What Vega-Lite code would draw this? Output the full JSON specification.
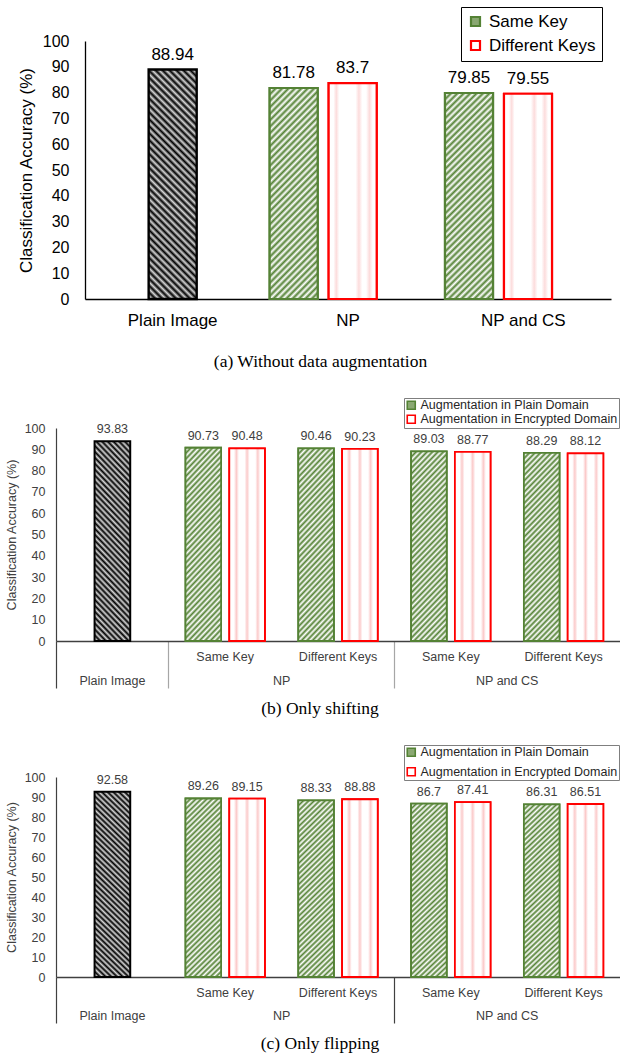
{
  "$schema": "https://vega.github.io/schema/vega-lite/v6.json",
  "background": "white",
  "padding": {"left": 5, "top": 6, "right": 0, "bottom": 0},
  "spacing": 26,
  "resolve": {
    "scale": {"x": "independent", "y": "independent", "xOffset": "independent", "fill": "independent", "stroke": "independent"},
    "axis": {"x": "independent", "y": "independent"},
    "legend": {"fill": "independent", "stroke": "independent"}
  },
  "config": {
    "font": "Liberation Sans",
    "view": {"stroke": null},
    "axis": {"grid": false, "labelFont": "Liberation Sans", "titleFont": "Liberation Sans"},
    "legend": {"labelFont": "Liberation Sans"}
  },
  "vconcat": [
    {
      "width": 555,
      "height": 258,
      "title": {"text": "(a) Without data augmentation", "orient": "bottom", "anchor": "middle", "frame": "group", "dx": -13, "offset": 25, "font": "Liberation Serif", "fontSize": 17.5, "fontWeight": "normal", "color": "#000"},
      "data": {"values": [
        {"cat": "Plain Image", "series": "Plain", "acc": 88.94},
        {"cat": "NP", "series": "Same Key", "acc": 81.78},
        {"cat": "NP", "series": "Different Keys", "acc": 83.7},
        {"cat": "NP and CS", "series": "Same Key", "acc": 79.85},
        {"cat": "NP and CS", "series": "Different Keys", "acc": 79.55}
      ]},
      "resolve": {"axis": {"y": "independent"}},
      "layer": [
        {
          "transform": [{"filter": "datum.series !== 'Plain'"}],
          "mark": {"type": "bar", "strokeWidth": 2.2},
          "encoding": {
            "x": {"field": "cat", "type": "nominal", "sort": null,
              "scale": {"domain": ["Plain Image", "NP", "NP and CS"], "range": [29, 555], "paddingInner": 0, "paddingOuter": 0},
              "axis": {"title": null, "labelAngle": 0, "ticks": false, "domainColor": "#000", "domainWidth": 1.3, "labelFontSize": 17, "labelColor": "#000", "labelPadding": 13}},
            "xOffset": {"field": "series", "type": "nominal",
              "scale": {"domain": ["Same Key", "Different Keys", "none"], "paddingInner": 0.186, "paddingOuter": 0.079, "align": 1}},
            "y": {"field": "acc", "type": "quantitative",
              "scale": {"domain": [0, 100], "nice": false},
              "axis": {"title": "Classification Accuracy (%)", "offset": -29, "values": [0, 10, 20, 30, 40, 50, 60, 70, 80, 90, 100], "labelOverlap": false, "ticks": false, "domainColor": "#000", "domainWidth": 1.3, "labelFontSize": 16, "labelColor": "#000", "labelPadding": 16, "titleFontSize": 17, "titleFontWeight": "normal", "titleColor": "#000", "titlePadding": 7}},
            "fill": {"field": "series", "type": "nominal",
              "scale": {"domain": ["Same Key", "Different Keys"], "range": ["#8aa872", "#ffffff"]},
              "legend": {"orient": "none", "legendX": 405, "legendY": -34, "title": null, "direction": "vertical", "labelFontSize": 17, "labelColor": "#000", "labelLimit": 300, "symbolType": "square", "symbolSize": 81, "symbolStrokeWidth": 2.2, "labelOffset": 5, "rowPadding": 5, "padding": 6, "strokeColor": "#000"}},
            "stroke": {"field": "series", "type": "nominal",
              "scale": {"domain": ["Same Key", "Different Keys"], "range": ["#548235", "#ff0000"]},
              "legend": {"orient": "none", "legendX": 405, "legendY": -34, "title": null, "direction": "vertical", "labelFontSize": 17, "labelColor": "#000", "labelLimit": 300, "symbolType": "square", "symbolSize": 81, "symbolStrokeWidth": 2.2, "labelOffset": 5, "rowPadding": 5, "padding": 6, "strokeColor": "#000"}}
          }
        },
        {
          "transform": [{"filter": "datum.series === 'Same Key'"}],
          "mark": {"type": "bar", "stroke": "#548235", "strokeWidth": 2.2,
            "fill": {"gradient": "linear", "x1": 0, "y1": 0, "x2": 0.27, "y2": 1.17, "stops": [{"offset":0,"color":"#548235"},{"offset":0.0125,"color":"#fff"},{"offset":0.025,"color":"#548235"},{"offset":0.0375,"color":"#fff"},{"offset":0.05,"color":"#548235"},{"offset":0.0625,"color":"#fff"},{"offset":0.075,"color":"#548235"},{"offset":0.0875,"color":"#fff"},{"offset":0.1,"color":"#548235"},{"offset":0.1125,"color":"#fff"},{"offset":0.125,"color":"#548235"},{"offset":0.1375,"color":"#fff"},{"offset":0.15,"color":"#548235"},{"offset":0.1625,"color":"#fff"},{"offset":0.175,"color":"#548235"},{"offset":0.1875,"color":"#fff"},{"offset":0.2,"color":"#548235"},{"offset":0.2125,"color":"#fff"},{"offset":0.225,"color":"#548235"},{"offset":0.2375,"color":"#fff"},{"offset":0.25,"color":"#548235"},{"offset":0.2625,"color":"#fff"},{"offset":0.275,"color":"#548235"},{"offset":0.2875,"color":"#fff"},{"offset":0.3,"color":"#548235"},{"offset":0.3125,"color":"#fff"},{"offset":0.325,"color":"#548235"},{"offset":0.3375,"color":"#fff"},{"offset":0.35,"color":"#548235"},{"offset":0.3625,"color":"#fff"},{"offset":0.375,"color":"#548235"},{"offset":0.3875,"color":"#fff"},{"offset":0.4,"color":"#548235"},{"offset":0.4125,"color":"#fff"},{"offset":0.425,"color":"#548235"},{"offset":0.4375,"color":"#fff"},{"offset":0.45,"color":"#548235"},{"offset":0.4625,"color":"#fff"},{"offset":0.475,"color":"#548235"},{"offset":0.4875,"color":"#fff"},{"offset":0.5,"color":"#548235"},{"offset":0.5125,"color":"#fff"},{"offset":0.525,"color":"#548235"},{"offset":0.5375,"color":"#fff"},{"offset":0.55,"color":"#548235"},{"offset":0.5625,"color":"#fff"},{"offset":0.575,"color":"#548235"},{"offset":0.5875,"color":"#fff"},{"offset":0.6,"color":"#548235"},{"offset":0.6125,"color":"#fff"},{"offset":0.625,"color":"#548235"},{"offset":0.6375,"color":"#fff"},{"offset":0.65,"color":"#548235"},{"offset":0.6625,"color":"#fff"},{"offset":0.675,"color":"#548235"},{"offset":0.6875,"color":"#fff"},{"offset":0.7,"color":"#548235"},{"offset":0.7125,"color":"#fff"},{"offset":0.725,"color":"#548235"},{"offset":0.7375,"color":"#fff"},{"offset":0.75,"color":"#548235"},{"offset":0.7625,"color":"#fff"},{"offset":0.775,"color":"#548235"},{"offset":0.7875,"color":"#fff"},{"offset":0.8,"color":"#548235"},{"offset":0.8125,"color":"#fff"},{"offset":0.825,"color":"#548235"},{"offset":0.8375,"color":"#fff"},{"offset":0.85,"color":"#548235"},{"offset":0.8625,"color":"#fff"},{"offset":0.875,"color":"#548235"},{"offset":0.8875,"color":"#fff"},{"offset":0.9,"color":"#548235"},{"offset":0.9125,"color":"#fff"},{"offset":0.925,"color":"#548235"},{"offset":0.9375,"color":"#fff"},{"offset":0.95,"color":"#548235"},{"offset":0.9625,"color":"#fff"},{"offset":0.975,"color":"#548235"},{"offset":0.9875,"color":"#fff"},{"offset":1,"color":"#548235"}]}},
          "encoding": {
            "x": {"field": "cat", "type": "nominal", "sort": null},
            "xOffset": {"field": "series", "type": "nominal"},
            "y": {"field": "acc", "type": "quantitative", "axis": null}
          }
        },
        {
          "transform": [{"filter": "datum.series === 'Different Keys'"}],
          "mark": {"type": "bar", "stroke": "#ff0000", "strokeWidth": 2.2,
            "fill": {"gradient": "linear", "x1": 0, "y1": 0, "x2": 1, "y2": 0, "stops": [{"offset":0,"color":"#fff"},{"offset":0.1,"color":"#fff"},{"offset":0.16,"color":"#fcdcdc"},{"offset":0.22,"color":"#fff"},{"offset":0.56,"color":"#fff"},{"offset":0.63,"color":"#fcdcdc"},{"offset":0.7,"color":"#fff"},{"offset":0.78,"color":"#fff"},{"offset":0.85,"color":"#fcdcdc"},{"offset":0.92,"color":"#fff"},{"offset":1,"color":"#fff"}]}},
          "encoding": {
            "x": {"field": "cat", "type": "nominal", "sort": null},
            "xOffset": {"field": "series", "type": "nominal"},
            "y": {"field": "acc", "type": "quantitative", "axis": null}
          }
        },
        {
          "transform": [{"filter": "datum.series === 'Plain'"}],
          "mark": {"type": "bar", "stroke": "#000", "strokeWidth": 2.4, "width": {"band": 0.274},
            "fill": {"gradient": "linear", "x1": 0, "y1": 1, "x2": 0.242, "y2": -0.158, "stops": [{"offset":0,"color":"#000"},{"offset":0.0125,"color":"#d4d4d4"},{"offset":0.025,"color":"#000"},{"offset":0.0375,"color":"#d4d4d4"},{"offset":0.05,"color":"#000"},{"offset":0.0625,"color":"#d4d4d4"},{"offset":0.075,"color":"#000"},{"offset":0.0875,"color":"#d4d4d4"},{"offset":0.1,"color":"#000"},{"offset":0.1125,"color":"#d4d4d4"},{"offset":0.125,"color":"#000"},{"offset":0.1375,"color":"#d4d4d4"},{"offset":0.15,"color":"#000"},{"offset":0.1625,"color":"#d4d4d4"},{"offset":0.175,"color":"#000"},{"offset":0.1875,"color":"#d4d4d4"},{"offset":0.2,"color":"#000"},{"offset":0.2125,"color":"#d4d4d4"},{"offset":0.225,"color":"#000"},{"offset":0.2375,"color":"#d4d4d4"},{"offset":0.25,"color":"#000"},{"offset":0.2625,"color":"#d4d4d4"},{"offset":0.275,"color":"#000"},{"offset":0.2875,"color":"#d4d4d4"},{"offset":0.3,"color":"#000"},{"offset":0.3125,"color":"#d4d4d4"},{"offset":0.325,"color":"#000"},{"offset":0.3375,"color":"#d4d4d4"},{"offset":0.35,"color":"#000"},{"offset":0.3625,"color":"#d4d4d4"},{"offset":0.375,"color":"#000"},{"offset":0.3875,"color":"#d4d4d4"},{"offset":0.4,"color":"#000"},{"offset":0.4125,"color":"#d4d4d4"},{"offset":0.425,"color":"#000"},{"offset":0.4375,"color":"#d4d4d4"},{"offset":0.45,"color":"#000"},{"offset":0.4625,"color":"#d4d4d4"},{"offset":0.475,"color":"#000"},{"offset":0.4875,"color":"#d4d4d4"},{"offset":0.5,"color":"#000"},{"offset":0.5125,"color":"#d4d4d4"},{"offset":0.525,"color":"#000"},{"offset":0.5375,"color":"#d4d4d4"},{"offset":0.55,"color":"#000"},{"offset":0.5625,"color":"#d4d4d4"},{"offset":0.575,"color":"#000"},{"offset":0.5875,"color":"#d4d4d4"},{"offset":0.6,"color":"#000"},{"offset":0.6125,"color":"#d4d4d4"},{"offset":0.625,"color":"#000"},{"offset":0.6375,"color":"#d4d4d4"},{"offset":0.65,"color":"#000"},{"offset":0.6625,"color":"#d4d4d4"},{"offset":0.675,"color":"#000"},{"offset":0.6875,"color":"#d4d4d4"},{"offset":0.7,"color":"#000"},{"offset":0.7125,"color":"#d4d4d4"},{"offset":0.725,"color":"#000"},{"offset":0.7375,"color":"#d4d4d4"},{"offset":0.75,"color":"#000"},{"offset":0.7625,"color":"#d4d4d4"},{"offset":0.775,"color":"#000"},{"offset":0.7875,"color":"#d4d4d4"},{"offset":0.8,"color":"#000"},{"offset":0.8125,"color":"#d4d4d4"},{"offset":0.825,"color":"#000"},{"offset":0.8375,"color":"#d4d4d4"},{"offset":0.85,"color":"#000"},{"offset":0.8625,"color":"#d4d4d4"},{"offset":0.875,"color":"#000"},{"offset":0.8875,"color":"#d4d4d4"},{"offset":0.9,"color":"#000"},{"offset":0.9125,"color":"#d4d4d4"},{"offset":0.925,"color":"#000"},{"offset":0.9375,"color":"#d4d4d4"},{"offset":0.95,"color":"#000"},{"offset":0.9625,"color":"#d4d4d4"},{"offset":0.975,"color":"#000"},{"offset":0.9875,"color":"#d4d4d4"},{"offset":1,"color":"#000"}]}},
          "encoding": {
            "x": {"field": "cat", "type": "nominal", "sort": null},
            "y": {"field": "acc", "type": "quantitative", "axis": null}
          }
        },
        {
          "transform": [{"filter": "datum.series !== 'Plain'"}],
          "mark": {"type": "text", "baseline": "bottom", "dy": -6, "fontSize": 17, "color": "#000"},
          "encoding": {
            "x": {"field": "cat", "type": "nominal", "sort": null},
            "xOffset": {"field": "series", "type": "nominal"},
            "y": {"field": "acc", "type": "quantitative", "axis": null},
            "text": {"field": "acc", "type": "nominal"}
          }
        },
        {
          "transform": [{"filter": "datum.series === 'Plain'"}],
          "mark": {"type": "text", "baseline": "bottom", "dy": -6, "fontSize": 17, "color": "#000"},
          "encoding": {
            "x": {"field": "cat", "type": "nominal", "sort": null},
            "y": {"field": "acc", "type": "quantitative", "axis": null},
            "text": {"field": "acc", "type": "nominal"}
          }
        }
      ]
    },
    {
      "width": 564,
      "height": 213,
      "title": {"text": "(b) Only shifting", "orient": "bottom", "anchor": "middle", "frame": "group", "dx": -18, "offset": 11, "font": "Liberation Serif", "fontSize": 17.5, "fontWeight": "normal", "color": "#000"},
      "data": {"values": [
        {"cat": "Plain Image", "series": "Plain", "acc": 93.83},
        {"cat": "NP|Same Key", "series": "Augmentation in Plain Domain", "acc": 90.73},
        {"cat": "NP|Same Key", "series": "Augmentation in Encrypted Domain", "acc": 90.48},
        {"cat": "NP|Different Keys", "series": "Augmentation in Plain Domain", "acc": 90.46},
        {"cat": "NP|Different Keys", "series": "Augmentation in Encrypted Domain", "acc": 90.23},
        {"cat": "NPCS|Same Key", "series": "Augmentation in Plain Domain", "acc": 89.03},
        {"cat": "NPCS|Same Key", "series": "Augmentation in Encrypted Domain", "acc": 88.77},
        {"cat": "NPCS|Different Keys", "series": "Augmentation in Plain Domain", "acc": 88.29},
        {"cat": "NPCS|Different Keys", "series": "Augmentation in Encrypted Domain", "acc": 88.12}
      ]},
      "resolve": {"axis": {"x": "independent", "y": "independent"}},
      "layer": [
        {
          "transform": [{"filter": "datum.series !== 'Plain'"}],
          "mark": {"type": "bar", "strokeWidth": 1.8},
          "encoding": {
            "x": {"field": "cat", "type": "nominal", "sort": null,
              "scale": {"domain": ["Plain Image", "NP|Same Key", "NP|Different Keys", "NPCS|Same Key", "NPCS|Different Keys"], "paddingInner": 0, "paddingOuter": 0},
              "axis": {"title": null, "orient": "bottom", "labelAngle": 0, "domainColor": "#404040", "domainWidth": 1.3,
                "bandPosition": 0, "ticks": true, "tickSize": 47, "tickWidth": 1.2,
                "tickColor": {"condition": {"test": "datum.value === 'Plain Image'", "value": "#404040"}, "value": "#a6a6a6"},
                "tickOpacity": {"condition": {"test": "datum.value === 'Plain Image' || datum.value === 'NP|Same Key' || datum.value === 'NPCS|Same Key'", "value": 1}, "value": 0},
                "labelExpr": "indexof(datum.value, '|') > 0 ? split(datum.value, '|')[1] : ''",
                "labelFontSize": 12.5, "labelColor": "#404040", "labelPadding": -38, "labelOverlap": false, "labelBound": false}},
            "xOffset": {"field": "series", "type": "nominal",
              "scale": {"domain": ["Augmentation in Plain Domain", "Augmentation in Encrypted Domain"], "paddingInner": 0.187, "paddingOuter": 0.381}},
            "y": {"field": "acc", "type": "quantitative",
              "scale": {"domain": [0, 100], "nice": false},
              "axis": {"title": "Classification Accuracy (%)", "values": [0, 10, 20, 30, 40, 50, 60, 70, 80, 90, 100], "labelOverlap": false, "ticks": false, "domainColor": "#404040", "domainWidth": 1.2, "labelFontSize": 12.5, "labelColor": "#404040", "labelPadding": 11, "titleFontSize": 12.5, "titleFontWeight": "normal", "titleColor": "#404040", "titlePadding": 6}},
            "fill": {"field": "series", "type": "nominal",
              "scale": {"domain": ["Augmentation in Plain Domain", "Augmentation in Encrypted Domain"], "range": ["#8aa872", "#ffffff"]},
              "legend": {"orient": "none", "legendX": 348, "legendY": -30, "title": null, "direction": "vertical", "labelFontSize": 12.5, "labelColor": "#262626", "labelLimit": 400, "symbolType": "square", "symbolSize": 64, "symbolStrokeWidth": 1.6, "labelOffset": 3, "rowPadding": -1, "padding": 1, "strokeColor": "#7f7f7f"}},
            "stroke": {"field": "series", "type": "nominal",
              "scale": {"domain": ["Augmentation in Plain Domain", "Augmentation in Encrypted Domain"], "range": ["#548235", "#ff0000"]},
              "legend": {"orient": "none", "legendX": 348, "legendY": -30, "title": null, "direction": "vertical", "labelFontSize": 12.5, "labelColor": "#262626", "labelLimit": 400, "symbolType": "square", "symbolSize": 64, "symbolStrokeWidth": 1.6, "labelOffset": 3, "rowPadding": -1, "padding": 1, "strokeColor": "#7f7f7f"}}
          }
        },
        {
          "transform": [{"filter": "datum.series === 'Augmentation in Plain Domain'"}],
          "mark": {"type": "bar", "stroke": "#548235", "strokeWidth": 1.8,
            "fill": {"gradient": "linear", "x1": 0, "y1": 0, "x2": 0.224, "y2": 1.151, "stops": [{"offset":0,"color":"#548235"},{"offset":0.0125,"color":"#fff"},{"offset":0.025,"color":"#548235"},{"offset":0.0375,"color":"#fff"},{"offset":0.05,"color":"#548235"},{"offset":0.0625,"color":"#fff"},{"offset":0.075,"color":"#548235"},{"offset":0.0875,"color":"#fff"},{"offset":0.1,"color":"#548235"},{"offset":0.1125,"color":"#fff"},{"offset":0.125,"color":"#548235"},{"offset":0.1375,"color":"#fff"},{"offset":0.15,"color":"#548235"},{"offset":0.1625,"color":"#fff"},{"offset":0.175,"color":"#548235"},{"offset":0.1875,"color":"#fff"},{"offset":0.2,"color":"#548235"},{"offset":0.2125,"color":"#fff"},{"offset":0.225,"color":"#548235"},{"offset":0.2375,"color":"#fff"},{"offset":0.25,"color":"#548235"},{"offset":0.2625,"color":"#fff"},{"offset":0.275,"color":"#548235"},{"offset":0.2875,"color":"#fff"},{"offset":0.3,"color":"#548235"},{"offset":0.3125,"color":"#fff"},{"offset":0.325,"color":"#548235"},{"offset":0.3375,"color":"#fff"},{"offset":0.35,"color":"#548235"},{"offset":0.3625,"color":"#fff"},{"offset":0.375,"color":"#548235"},{"offset":0.3875,"color":"#fff"},{"offset":0.4,"color":"#548235"},{"offset":0.4125,"color":"#fff"},{"offset":0.425,"color":"#548235"},{"offset":0.4375,"color":"#fff"},{"offset":0.45,"color":"#548235"},{"offset":0.4625,"color":"#fff"},{"offset":0.475,"color":"#548235"},{"offset":0.4875,"color":"#fff"},{"offset":0.5,"color":"#548235"},{"offset":0.5125,"color":"#fff"},{"offset":0.525,"color":"#548235"},{"offset":0.5375,"color":"#fff"},{"offset":0.55,"color":"#548235"},{"offset":0.5625,"color":"#fff"},{"offset":0.575,"color":"#548235"},{"offset":0.5875,"color":"#fff"},{"offset":0.6,"color":"#548235"},{"offset":0.6125,"color":"#fff"},{"offset":0.625,"color":"#548235"},{"offset":0.6375,"color":"#fff"},{"offset":0.65,"color":"#548235"},{"offset":0.6625,"color":"#fff"},{"offset":0.675,"color":"#548235"},{"offset":0.6875,"color":"#fff"},{"offset":0.7,"color":"#548235"},{"offset":0.7125,"color":"#fff"},{"offset":0.725,"color":"#548235"},{"offset":0.7375,"color":"#fff"},{"offset":0.75,"color":"#548235"},{"offset":0.7625,"color":"#fff"},{"offset":0.775,"color":"#548235"},{"offset":0.7875,"color":"#fff"},{"offset":0.8,"color":"#548235"},{"offset":0.8125,"color":"#fff"},{"offset":0.825,"color":"#548235"},{"offset":0.8375,"color":"#fff"},{"offset":0.85,"color":"#548235"},{"offset":0.8625,"color":"#fff"},{"offset":0.875,"color":"#548235"},{"offset":0.8875,"color":"#fff"},{"offset":0.9,"color":"#548235"},{"offset":0.9125,"color":"#fff"},{"offset":0.925,"color":"#548235"},{"offset":0.9375,"color":"#fff"},{"offset":0.95,"color":"#548235"},{"offset":0.9625,"color":"#fff"},{"offset":0.975,"color":"#548235"},{"offset":0.9875,"color":"#fff"},{"offset":1,"color":"#548235"}]}},
          "encoding": {
            "x": {"field": "cat", "type": "nominal", "sort": null, "axis": null},
            "xOffset": {"field": "series", "type": "nominal"},
            "y": {"field": "acc", "type": "quantitative", "axis": null}
          }
        },
        {
          "transform": [{"filter": "datum.series === 'Augmentation in Encrypted Domain'"}],
          "mark": {"type": "bar", "stroke": "#ff0000", "strokeWidth": 1.8,
            "fill": {"gradient": "linear", "x1": 0, "y1": 0, "x2": 1, "y2": 0, "stops": [{"offset":0,"color":"#fff"},{"offset":0.13,"color":"#fff"},{"offset":0.2,"color":"#fbcaca"},{"offset":0.27,"color":"#fff"},{"offset":0.43,"color":"#fff"},{"offset":0.5,"color":"#fbcaca"},{"offset":0.57,"color":"#fff"},{"offset":0.73,"color":"#fff"},{"offset":0.8,"color":"#fbcaca"},{"offset":0.87,"color":"#fff"},{"offset":1,"color":"#fff"}]}},
          "encoding": {
            "x": {"field": "cat", "type": "nominal", "sort": null, "axis": null},
            "xOffset": {"field": "series", "type": "nominal"},
            "y": {"field": "acc", "type": "quantitative", "axis": null}
          }
        },
        {
          "transform": [{"filter": "datum.series === 'Plain'"}],
          "mark": {"type": "bar", "stroke": "#000", "strokeWidth": 2, "width": {"band": 0.316},
            "fill": {"gradient": "linear", "x1": 0, "y1": 1, "x2": 0.2125, "y2": -0.146, "stops": [{"offset":0,"color":"#000"},{"offset":0.0125,"color":"#d4d4d4"},{"offset":0.025,"color":"#000"},{"offset":0.0375,"color":"#d4d4d4"},{"offset":0.05,"color":"#000"},{"offset":0.0625,"color":"#d4d4d4"},{"offset":0.075,"color":"#000"},{"offset":0.0875,"color":"#d4d4d4"},{"offset":0.1,"color":"#000"},{"offset":0.1125,"color":"#d4d4d4"},{"offset":0.125,"color":"#000"},{"offset":0.1375,"color":"#d4d4d4"},{"offset":0.15,"color":"#000"},{"offset":0.1625,"color":"#d4d4d4"},{"offset":0.175,"color":"#000"},{"offset":0.1875,"color":"#d4d4d4"},{"offset":0.2,"color":"#000"},{"offset":0.2125,"color":"#d4d4d4"},{"offset":0.225,"color":"#000"},{"offset":0.2375,"color":"#d4d4d4"},{"offset":0.25,"color":"#000"},{"offset":0.2625,"color":"#d4d4d4"},{"offset":0.275,"color":"#000"},{"offset":0.2875,"color":"#d4d4d4"},{"offset":0.3,"color":"#000"},{"offset":0.3125,"color":"#d4d4d4"},{"offset":0.325,"color":"#000"},{"offset":0.3375,"color":"#d4d4d4"},{"offset":0.35,"color":"#000"},{"offset":0.3625,"color":"#d4d4d4"},{"offset":0.375,"color":"#000"},{"offset":0.3875,"color":"#d4d4d4"},{"offset":0.4,"color":"#000"},{"offset":0.4125,"color":"#d4d4d4"},{"offset":0.425,"color":"#000"},{"offset":0.4375,"color":"#d4d4d4"},{"offset":0.45,"color":"#000"},{"offset":0.4625,"color":"#d4d4d4"},{"offset":0.475,"color":"#000"},{"offset":0.4875,"color":"#d4d4d4"},{"offset":0.5,"color":"#000"},{"offset":0.5125,"color":"#d4d4d4"},{"offset":0.525,"color":"#000"},{"offset":0.5375,"color":"#d4d4d4"},{"offset":0.55,"color":"#000"},{"offset":0.5625,"color":"#d4d4d4"},{"offset":0.575,"color":"#000"},{"offset":0.5875,"color":"#d4d4d4"},{"offset":0.6,"color":"#000"},{"offset":0.6125,"color":"#d4d4d4"},{"offset":0.625,"color":"#000"},{"offset":0.6375,"color":"#d4d4d4"},{"offset":0.65,"color":"#000"},{"offset":0.6625,"color":"#d4d4d4"},{"offset":0.675,"color":"#000"},{"offset":0.6875,"color":"#d4d4d4"},{"offset":0.7,"color":"#000"},{"offset":0.7125,"color":"#d4d4d4"},{"offset":0.725,"color":"#000"},{"offset":0.7375,"color":"#d4d4d4"},{"offset":0.75,"color":"#000"},{"offset":0.7625,"color":"#d4d4d4"},{"offset":0.775,"color":"#000"},{"offset":0.7875,"color":"#d4d4d4"},{"offset":0.8,"color":"#000"},{"offset":0.8125,"color":"#d4d4d4"},{"offset":0.825,"color":"#000"},{"offset":0.8375,"color":"#d4d4d4"},{"offset":0.85,"color":"#000"},{"offset":0.8625,"color":"#d4d4d4"},{"offset":0.875,"color":"#000"},{"offset":0.8875,"color":"#d4d4d4"},{"offset":0.9,"color":"#000"},{"offset":0.9125,"color":"#d4d4d4"},{"offset":0.925,"color":"#000"},{"offset":0.9375,"color":"#d4d4d4"},{"offset":0.95,"color":"#000"},{"offset":0.9625,"color":"#d4d4d4"},{"offset":0.975,"color":"#000"},{"offset":0.9875,"color":"#d4d4d4"},{"offset":1,"color":"#000"}]}},
          "encoding": {
            "x": {"field": "cat", "type": "nominal", "sort": null, "axis": null},
            "y": {"field": "acc", "type": "quantitative", "axis": null}
          }
        },
        {
          "transform": [{"filter": "datum.series !== 'Plain'"}],
          "mark": {"type": "text", "baseline": "bottom", "dy": -5, "fontSize": 12.5, "color": "#404040"},
          "encoding": {
            "x": {"field": "cat", "type": "nominal", "sort": null,
              "axis": {"title": null, "orient": "bottom", "labelAngle": 0, "domain": false, "ticks": false,
                "labelExpr": "datum.value === 'Plain Image' ? 'Plain Image' : datum.value === 'NP|Different Keys' ? 'NP' : datum.value === 'NPCS|Different Keys' ? 'NP and CS' : ''",
                "labelOffset": {"condition": {"test": "datum.value === 'Plain Image'", "value": 0}, "value": -56.4},
                "labelFontSize": 12.5, "labelColor": "#404040", "labelPadding": 33, "labelOverlap": false, "labelBound": false}},
            "xOffset": {"field": "series", "type": "nominal"},
            "y": {"field": "acc", "type": "quantitative", "axis": null},
            "text": {"field": "acc", "type": "nominal"}
          }
        },
        {
          "transform": [{"filter": "datum.series === 'Plain'"}],
          "mark": {"type": "text", "baseline": "bottom", "dy": -5, "fontSize": 12.5, "color": "#404040"},
          "encoding": {
            "x": {"field": "cat", "type": "nominal", "sort": null, "axis": null},
            "y": {"field": "acc", "type": "quantitative", "axis": null},
            "text": {"field": "acc", "type": "nominal"}
          }
        }
      ]
    },
    {
      "width": 564,
      "height": 200,
      "title": {"text": "(c) Only flipping", "orient": "bottom", "anchor": "middle", "frame": "group", "dx": -18, "offset": 11, "font": "Liberation Serif", "fontSize": 17.5, "fontWeight": "normal", "color": "#000"},
      "data": {"values": [
        {"cat": "Plain Image", "series": "Plain", "acc": 92.58},
        {"cat": "NP|Same Key", "series": "Augmentation in Plain Domain", "acc": 89.26},
        {"cat": "NP|Same Key", "series": "Augmentation in Encrypted Domain", "acc": 89.15},
        {"cat": "NP|Different Keys", "series": "Augmentation in Plain Domain", "acc": 88.33},
        {"cat": "NP|Different Keys", "series": "Augmentation in Encrypted Domain", "acc": 88.88},
        {"cat": "NPCS|Same Key", "series": "Augmentation in Plain Domain", "acc": 86.7},
        {"cat": "NPCS|Same Key", "series": "Augmentation in Encrypted Domain", "acc": 87.41},
        {"cat": "NPCS|Different Keys", "series": "Augmentation in Plain Domain", "acc": 86.31},
        {"cat": "NPCS|Different Keys", "series": "Augmentation in Encrypted Domain", "acc": 86.51}
      ]},
      "resolve": {"axis": {"x": "independent", "y": "independent"}},
      "layer": [
        {
          "transform": [{"filter": "datum.series !== 'Plain'"}],
          "mark": {"type": "bar", "strokeWidth": 1.8},
          "encoding": {
            "x": {"field": "cat", "type": "nominal", "sort": null,
              "scale": {"domain": ["Plain Image", "NP|Same Key", "NP|Different Keys", "NPCS|Same Key", "NPCS|Different Keys"], "paddingInner": 0, "paddingOuter": 0},
              "axis": {"title": null, "orient": "bottom", "labelAngle": 0, "domainColor": "#404040", "domainWidth": 1.3,
                "bandPosition": 0, "ticks": true, "tickSize": 46, "tickWidth": 1.2, "tickColor": "#404040",
                "tickOpacity": {"condition": {"test": "datum.value === 'Plain Image' || datum.value === 'NPCS|Same Key'", "value": 1}, "value": 0},
                "labelExpr": "indexof(datum.value, '|') > 0 ? split(datum.value, '|')[1] : ''",
                "labelFontSize": 12.5, "labelColor": "#404040", "labelPadding": -37, "labelOverlap": false, "labelBound": false}},
            "xOffset": {"field": "series", "type": "nominal",
              "scale": {"domain": ["Augmentation in Plain Domain", "Augmentation in Encrypted Domain"], "paddingInner": 0.187, "paddingOuter": 0.381}},
            "y": {"field": "acc", "type": "quantitative",
              "scale": {"domain": [0, 100], "nice": false},
              "axis": {"title": "Classification Accuracy (%)", "values": [0, 10, 20, 30, 40, 50, 60, 70, 80, 90, 100], "labelOverlap": false, "ticks": false, "domainColor": "#404040", "domainWidth": 1.2, "labelFontSize": 12.5, "labelColor": "#404040", "labelPadding": 11, "titleFontSize": 12.5, "titleFontWeight": "normal", "titleColor": "#404040", "titlePadding": 6}},
            "fill": {"field": "series", "type": "nominal",
              "scale": {"domain": ["Augmentation in Plain Domain", "Augmentation in Encrypted Domain"], "range": ["#8aa872", "#ffffff"]},
              "legend": {"orient": "none", "legendX": 348, "legendY": -32, "title": null, "direction": "vertical", "labelFontSize": 12.5, "labelColor": "#262626", "labelLimit": 400, "symbolType": "square", "symbolSize": 64, "symbolStrokeWidth": 1.6, "labelOffset": 3, "rowPadding": 4.5, "padding": 1, "strokeColor": "#7f7f7f"}},
            "stroke": {"field": "series", "type": "nominal",
              "scale": {"domain": ["Augmentation in Plain Domain", "Augmentation in Encrypted Domain"], "range": ["#548235", "#ff0000"]},
              "legend": {"orient": "none", "legendX": 348, "legendY": -32, "title": null, "direction": "vertical", "labelFontSize": 12.5, "labelColor": "#262626", "labelLimit": 400, "symbolType": "square", "symbolSize": 64, "symbolStrokeWidth": 1.6, "labelOffset": 3, "rowPadding": 4.5, "padding": 1, "strokeColor": "#7f7f7f"}}
          }
        },
        {
          "transform": [{"filter": "datum.series === 'Augmentation in Plain Domain'"}],
          "mark": {"type": "bar", "stroke": "#548235", "strokeWidth": 1.8,
            "fill": {"gradient": "linear", "x1": 0, "y1": 0, "x2": 0.224, "y2": 1.151, "stops": [{"offset":0,"color":"#548235"},{"offset":0.0125,"color":"#fff"},{"offset":0.025,"color":"#548235"},{"offset":0.0375,"color":"#fff"},{"offset":0.05,"color":"#548235"},{"offset":0.0625,"color":"#fff"},{"offset":0.075,"color":"#548235"},{"offset":0.0875,"color":"#fff"},{"offset":0.1,"color":"#548235"},{"offset":0.1125,"color":"#fff"},{"offset":0.125,"color":"#548235"},{"offset":0.1375,"color":"#fff"},{"offset":0.15,"color":"#548235"},{"offset":0.1625,"color":"#fff"},{"offset":0.175,"color":"#548235"},{"offset":0.1875,"color":"#fff"},{"offset":0.2,"color":"#548235"},{"offset":0.2125,"color":"#fff"},{"offset":0.225,"color":"#548235"},{"offset":0.2375,"color":"#fff"},{"offset":0.25,"color":"#548235"},{"offset":0.2625,"color":"#fff"},{"offset":0.275,"color":"#548235"},{"offset":0.2875,"color":"#fff"},{"offset":0.3,"color":"#548235"},{"offset":0.3125,"color":"#fff"},{"offset":0.325,"color":"#548235"},{"offset":0.3375,"color":"#fff"},{"offset":0.35,"color":"#548235"},{"offset":0.3625,"color":"#fff"},{"offset":0.375,"color":"#548235"},{"offset":0.3875,"color":"#fff"},{"offset":0.4,"color":"#548235"},{"offset":0.4125,"color":"#fff"},{"offset":0.425,"color":"#548235"},{"offset":0.4375,"color":"#fff"},{"offset":0.45,"color":"#548235"},{"offset":0.4625,"color":"#fff"},{"offset":0.475,"color":"#548235"},{"offset":0.4875,"color":"#fff"},{"offset":0.5,"color":"#548235"},{"offset":0.5125,"color":"#fff"},{"offset":0.525,"color":"#548235"},{"offset":0.5375,"color":"#fff"},{"offset":0.55,"color":"#548235"},{"offset":0.5625,"color":"#fff"},{"offset":0.575,"color":"#548235"},{"offset":0.5875,"color":"#fff"},{"offset":0.6,"color":"#548235"},{"offset":0.6125,"color":"#fff"},{"offset":0.625,"color":"#548235"},{"offset":0.6375,"color":"#fff"},{"offset":0.65,"color":"#548235"},{"offset":0.6625,"color":"#fff"},{"offset":0.675,"color":"#548235"},{"offset":0.6875,"color":"#fff"},{"offset":0.7,"color":"#548235"},{"offset":0.7125,"color":"#fff"},{"offset":0.725,"color":"#548235"},{"offset":0.7375,"color":"#fff"},{"offset":0.75,"color":"#548235"},{"offset":0.7625,"color":"#fff"},{"offset":0.775,"color":"#548235"},{"offset":0.7875,"color":"#fff"},{"offset":0.8,"color":"#548235"},{"offset":0.8125,"color":"#fff"},{"offset":0.825,"color":"#548235"},{"offset":0.8375,"color":"#fff"},{"offset":0.85,"color":"#548235"},{"offset":0.8625,"color":"#fff"},{"offset":0.875,"color":"#548235"},{"offset":0.8875,"color":"#fff"},{"offset":0.9,"color":"#548235"},{"offset":0.9125,"color":"#fff"},{"offset":0.925,"color":"#548235"},{"offset":0.9375,"color":"#fff"},{"offset":0.95,"color":"#548235"},{"offset":0.9625,"color":"#fff"},{"offset":0.975,"color":"#548235"},{"offset":0.9875,"color":"#fff"},{"offset":1,"color":"#548235"}]}},
          "encoding": {
            "x": {"field": "cat", "type": "nominal", "sort": null, "axis": null},
            "xOffset": {"field": "series", "type": "nominal"},
            "y": {"field": "acc", "type": "quantitative", "axis": null}
          }
        },
        {
          "transform": [{"filter": "datum.series === 'Augmentation in Encrypted Domain'"}],
          "mark": {"type": "bar", "stroke": "#ff0000", "strokeWidth": 1.8,
            "fill": {"gradient": "linear", "x1": 0, "y1": 0, "x2": 1, "y2": 0, "stops": [{"offset":0,"color":"#fff"},{"offset":0.13,"color":"#fff"},{"offset":0.2,"color":"#fbcaca"},{"offset":0.27,"color":"#fff"},{"offset":0.43,"color":"#fff"},{"offset":0.5,"color":"#fbcaca"},{"offset":0.57,"color":"#fff"},{"offset":0.73,"color":"#fff"},{"offset":0.8,"color":"#fbcaca"},{"offset":0.87,"color":"#fff"},{"offset":1,"color":"#fff"}]}},
          "encoding": {
            "x": {"field": "cat", "type": "nominal", "sort": null, "axis": null},
            "xOffset": {"field": "series", "type": "nominal"},
            "y": {"field": "acc", "type": "quantitative", "axis": null}
          }
        },
        {
          "transform": [{"filter": "datum.series === 'Plain'"}],
          "mark": {"type": "bar", "stroke": "#000", "strokeWidth": 2, "width": {"band": 0.316},
            "fill": {"gradient": "linear", "x1": 0, "y1": 1, "x2": 0.2125, "y2": -0.146, "stops": [{"offset":0,"color":"#000"},{"offset":0.0125,"color":"#d4d4d4"},{"offset":0.025,"color":"#000"},{"offset":0.0375,"color":"#d4d4d4"},{"offset":0.05,"color":"#000"},{"offset":0.0625,"color":"#d4d4d4"},{"offset":0.075,"color":"#000"},{"offset":0.0875,"color":"#d4d4d4"},{"offset":0.1,"color":"#000"},{"offset":0.1125,"color":"#d4d4d4"},{"offset":0.125,"color":"#000"},{"offset":0.1375,"color":"#d4d4d4"},{"offset":0.15,"color":"#000"},{"offset":0.1625,"color":"#d4d4d4"},{"offset":0.175,"color":"#000"},{"offset":0.1875,"color":"#d4d4d4"},{"offset":0.2,"color":"#000"},{"offset":0.2125,"color":"#d4d4d4"},{"offset":0.225,"color":"#000"},{"offset":0.2375,"color":"#d4d4d4"},{"offset":0.25,"color":"#000"},{"offset":0.2625,"color":"#d4d4d4"},{"offset":0.275,"color":"#000"},{"offset":0.2875,"color":"#d4d4d4"},{"offset":0.3,"color":"#000"},{"offset":0.3125,"color":"#d4d4d4"},{"offset":0.325,"color":"#000"},{"offset":0.3375,"color":"#d4d4d4"},{"offset":0.35,"color":"#000"},{"offset":0.3625,"color":"#d4d4d4"},{"offset":0.375,"color":"#000"},{"offset":0.3875,"color":"#d4d4d4"},{"offset":0.4,"color":"#000"},{"offset":0.4125,"color":"#d4d4d4"},{"offset":0.425,"color":"#000"},{"offset":0.4375,"color":"#d4d4d4"},{"offset":0.45,"color":"#000"},{"offset":0.4625,"color":"#d4d4d4"},{"offset":0.475,"color":"#000"},{"offset":0.4875,"color":"#d4d4d4"},{"offset":0.5,"color":"#000"},{"offset":0.5125,"color":"#d4d4d4"},{"offset":0.525,"color":"#000"},{"offset":0.5375,"color":"#d4d4d4"},{"offset":0.55,"color":"#000"},{"offset":0.5625,"color":"#d4d4d4"},{"offset":0.575,"color":"#000"},{"offset":0.5875,"color":"#d4d4d4"},{"offset":0.6,"color":"#000"},{"offset":0.6125,"color":"#d4d4d4"},{"offset":0.625,"color":"#000"},{"offset":0.6375,"color":"#d4d4d4"},{"offset":0.65,"color":"#000"},{"offset":0.6625,"color":"#d4d4d4"},{"offset":0.675,"color":"#000"},{"offset":0.6875,"color":"#d4d4d4"},{"offset":0.7,"color":"#000"},{"offset":0.7125,"color":"#d4d4d4"},{"offset":0.725,"color":"#000"},{"offset":0.7375,"color":"#d4d4d4"},{"offset":0.75,"color":"#000"},{"offset":0.7625,"color":"#d4d4d4"},{"offset":0.775,"color":"#000"},{"offset":0.7875,"color":"#d4d4d4"},{"offset":0.8,"color":"#000"},{"offset":0.8125,"color":"#d4d4d4"},{"offset":0.825,"color":"#000"},{"offset":0.8375,"color":"#d4d4d4"},{"offset":0.85,"color":"#000"},{"offset":0.8625,"color":"#d4d4d4"},{"offset":0.875,"color":"#000"},{"offset":0.8875,"color":"#d4d4d4"},{"offset":0.9,"color":"#000"},{"offset":0.9125,"color":"#d4d4d4"},{"offset":0.925,"color":"#000"},{"offset":0.9375,"color":"#d4d4d4"},{"offset":0.95,"color":"#000"},{"offset":0.9625,"color":"#d4d4d4"},{"offset":0.975,"color":"#000"},{"offset":0.9875,"color":"#d4d4d4"},{"offset":1,"color":"#000"}]}},
          "encoding": {
            "x": {"field": "cat", "type": "nominal", "sort": null, "axis": null},
            "y": {"field": "acc", "type": "quantitative", "axis": null}
          }
        },
        {
          "transform": [{"filter": "datum.series !== 'Plain'"}],
          "mark": {"type": "text", "baseline": "bottom", "dy": -5, "fontSize": 12.5, "color": "#404040"},
          "encoding": {
            "x": {"field": "cat", "type": "nominal", "sort": null,
              "axis": {"title": null, "orient": "bottom", "labelAngle": 0, "domain": false, "ticks": false,
                "labelExpr": "datum.value === 'Plain Image' ? 'Plain Image' : datum.value === 'NP|Different Keys' ? 'NP' : datum.value === 'NPCS|Different Keys' ? 'NP and CS' : ''",
                "labelOffset": {"condition": {"test": "datum.value === 'Plain Image'", "value": 0}, "value": -56.4},
                "labelFontSize": 12.5, "labelColor": "#404040", "labelPadding": 32, "labelOverlap": false, "labelBound": false}},
            "xOffset": {"field": "series", "type": "nominal"},
            "y": {"field": "acc", "type": "quantitative", "axis": null},
            "text": {"field": "acc", "type": "nominal"}
          }
        },
        {
          "transform": [{"filter": "datum.series === 'Plain'"}],
          "mark": {"type": "text", "baseline": "bottom", "dy": -5, "fontSize": 12.5, "color": "#404040"},
          "encoding": {
            "x": {"field": "cat", "type": "nominal", "sort": null, "axis": null},
            "y": {"field": "acc", "type": "quantitative", "axis": null},
            "text": {"field": "acc", "type": "nominal"}
          }
        }
      ]
    }
  ]
}
